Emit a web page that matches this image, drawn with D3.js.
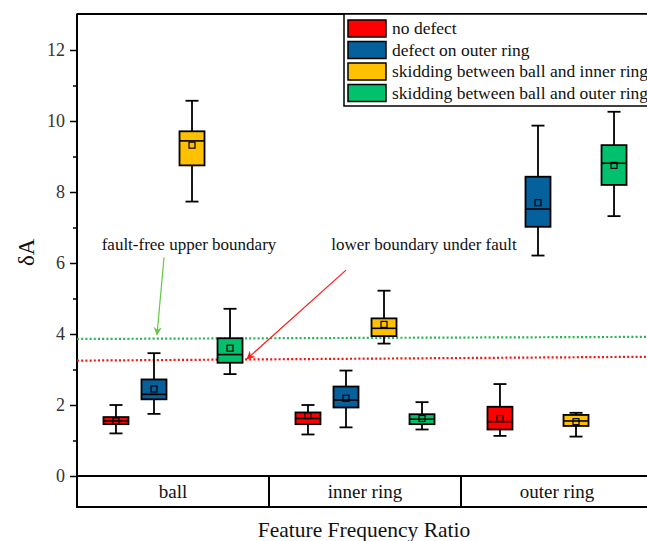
<!DOCTYPE html>
<html>
<head>
<meta charset="utf-8">
<script src="https://cdn.jsdelivr.net/npm/d3@7"></script>
<style>
  body { margin: 0; background: #fff; }
  text { font-family: "Liberation Serif", "Times New Roman", serif; }
</style>
</head>
<body>
<div id="chart"></div>
<script>
// categories along the x axis and the four series
const categories = ["ball", "inner ring", "outer ring"];
const series = ["no defect", "defect on outer ring", "skidding between ball and inner ring", "skidding between ball and outer ring"];
const colors = ["#FF0000", "#06609C", "#FFC000", "#00C26C"];

// box stats per category: [whisker low, q1, median, q3, whisker high, mean]
const noDefect      = [[1.20, 1.46, 1.55, 1.66, 2.00, 1.55], [1.17, 1.46, 1.62, 1.79, 2.00, 1.70], [1.13, 1.31, 1.53, 1.95, 2.59, 1.62]];
const outerDefect   = [[1.75, 2.16, 2.30, 2.72, 3.46, 2.45], [1.37, 1.93, 2.14, 2.52, 2.97, 2.19], [6.21, 7.02, 7.52, 8.43, 9.87, 7.70]];
const skidInner     = [[7.73, 8.75, 9.44, 9.71, 10.57, 9.32], [3.73, 3.94, 4.16, 4.44, 5.22, 4.27], [1.11, 1.41, 1.55, 1.72, 1.78, 1.53]];
const skidOuter     = [[2.87, 3.19, 3.42, 3.88, 4.71, 3.60], [1.31, 1.46, 1.60, 1.74, 2.08, 1.62], [7.32, 8.20, 8.81, 9.32, 10.26, 8.75]];
const seriesValues = [noDefect, outerDefect, skidInner, skidOuter];

const yTicks = [0, 2, 4, 6, 8, 10, 12];

// boundary lines: value at the left and right end of the plot
const upperBoundary = [3.86, 3.92];
const lowerBoundary = [3.25, 3.36];

const width = 647, height = 541;
const margin = { top: 14, left: 77, right: -6, bottom: 34 };
const tableH = 31;

const svg = d3.select("#chart").append("svg")
  .attr("width", width)
  .attr("height", height);

const x0 = d3.scaleBand()
  .domain(categories)
  .range([margin.left, width - margin.right]);

const x1 = d3.scalePoint()
  .domain(series)
  .range([x0.bandwidth() * 0.203, x0.bandwidth() * 0.797]);

const y = d3.scaleLinear()
  .domain([0, 13])
  .range([height - margin.bottom - tableH, margin.top + 0.5]);

const xLine = d3.scaleLinear().domain([0, 1]).range(x0.range());

const boxW = 25, capW = 13;
const yBottom = y(0);
const tableBottom = yBottom + tableH;

// y axis with major and minor ticks
const yAxis = d3.axisLeft(y).tickValues(yTicks).tickSize(7).tickPadding(5).tickFormat(d3.format("d"));
const gy = svg.append("g").attr("transform", `translate(${margin.left},0)`).call(yAxis);
gy.select(".domain").remove();
gy.selectAll(".tick line").attr("stroke", "#000").attr("stroke-width", 1.5);
gy.selectAll(".tick text").attr("fill", "#333").style("font-size", "18px").style("font-family", "Liberation Serif");

const gyMinor = svg.append("g").attr("transform", `translate(${margin.left},0)`)
  .call(d3.axisLeft(y).tickValues([1, 3, 5, 7, 9, 11]).tickSize(4).tickFormat(""));
gyMinor.select(".domain").remove();
gyMinor.selectAll(".tick line").attr("stroke", "#000").attr("stroke-width", 1.5);

// frame lines
const frame = svg.append("g").attr("stroke", "#000").attr("stroke-width", 2).attr("fill", "none");
frame.append("line").attr("x1", margin.left).attr("x2", margin.left).attr("y1", margin.top - 0.5).attr("y2", tableBottom + 1);
frame.append("line").attr("x1", margin.left).attr("x2", width).attr("y1", margin.top).attr("y2", margin.top);
frame.append("line").attr("x1", margin.left).attr("x2", width).attr("y1", yBottom).attr("y2", yBottom);
frame.append("line").attr("x1", margin.left).attr("x2", width).attr("y1", tableBottom).attr("y2", tableBottom);
categories.slice(1).forEach(c => {
  frame.append("line").attr("x1", x0(c)).attr("x2", x0(c)).attr("y1", yBottom).attr("y2", tableBottom);
});

// category labels in the table row
svg.append("g").selectAll("text")
  .data(categories)
  .join("text")
  .attr("x", d => x0(d) + x0.bandwidth() / 2)
  .attr("y", yBottom + 22)
  .attr("text-anchor", "middle")
  .style("font-size", "19px")
  .attr("fill", "#111")
  .text(d => d);

// boundary lines
svg.append("line")
  .attr("x1", xLine(0)).attr("x2", xLine(1))
  .attr("y1", y(upperBoundary[0])).attr("y2", y(upperBoundary[1]))
  .attr("stroke", "#22B84C").attr("stroke-width", 2.2).attr("stroke-dasharray", "2,2.2");
svg.append("line")
  .attr("x1", xLine(0)).attr("x2", xLine(1))
  .attr("y1", y(lowerBoundary[0])).attr("y2", y(lowerBoundary[1]))
  .attr("stroke", "#FF1010").attr("stroke-width", 2.2).attr("stroke-dasharray", "2,2.2");

// boxes
const boxes = [];
seriesValues.forEach((vals, si) => {
  vals.forEach((s, ci) => {
    boxes.push({ cat: categories[ci], ser: series[si], color: colors[si], lo: s[0], q1: s[1], med: s[2], q3: s[3], hi: s[4], mean: s[5] });
  });
});

const bg = svg.append("g").selectAll("g")
  .data(boxes)
  .join("g")
  .attr("transform", d => `translate(${x0(d.cat) + x1(d.ser)},0)`);

bg.append("line").attr("y1", d => y(d.hi)).attr("y2", d => y(d.q3)).attr("stroke", "#000").attr("stroke-width", 1.8);
bg.append("line").attr("y1", d => y(d.q1)).attr("y2", d => y(d.lo)).attr("stroke", "#000").attr("stroke-width", 1.8);
bg.append("line").attr("x1", -capW / 2).attr("x2", capW / 2).attr("y1", d => y(d.hi)).attr("y2", d => y(d.hi)).attr("stroke", "#000").attr("stroke-width", 1.8);
bg.append("line").attr("x1", -capW / 2).attr("x2", capW / 2).attr("y1", d => y(d.lo)).attr("y2", d => y(d.lo)).attr("stroke", "#000").attr("stroke-width", 1.8);
bg.append("rect")
  .attr("x", -boxW / 2).attr("width", boxW)
  .attr("y", d => y(d.q3)).attr("height", d => y(d.q1) - y(d.q3))
  .attr("fill", d => d.color).attr("stroke", "#000").attr("stroke-width", 1.8);
bg.append("line").attr("x1", -boxW / 2).attr("x2", boxW / 2).attr("y1", d => y(d.med)).attr("y2", d => y(d.med)).attr("stroke", "#000").attr("stroke-width", 1.6);
bg.append("rect")
  .attr("x", -3).attr("width", 6)
  .attr("y", d => y(d.mean) - 3).attr("height", 6)
  .attr("fill", "none").attr("stroke", "#000").attr("stroke-width", 1.2);

// annotations with arrows
const defs = svg.append("defs");
[["arrGreen", "#66C843"], ["arrRed", "#FF1A1A"]].forEach(([id, c]) => {
  defs.append("marker").attr("id", id)
    .attr("viewBox", "0 0 10 10").attr("refX", 9).attr("refY", 5)
    .attr("markerWidth", 7).attr("markerHeight", 7).attr("orient", "auto")
    .append("path").attr("d", "M0,0 L10,5 L0,10 L3,5 Z").attr("fill", c);
});

svg.append("text").attr("x", 189).attr("y", y(6.36)).attr("text-anchor", "middle")
  .style("font-size", "17px").attr("fill", "#111").text("fault-free upper boundary");
svg.append("line").attr("x1", 164).attr("y1", y(6.15)).attr("x2", 157).attr("y2", y(3.98))
  .attr("stroke", "#66C843").attr("stroke-width", 1.2).attr("marker-end", "url(#arrGreen)");

svg.append("text").attr("x", 424).attr("y", y(6.36)).attr("text-anchor", "middle")
  .style("font-size", "17px").attr("fill", "#111").text("lower boundary under fault");
svg.append("line").attr("x1", 346).attr("y1", y(5.8)).attr("x2", 247).attr("y2", y(3.3))
  .attr("stroke", "#FF1A1A").attr("stroke-width", 1.2).attr("marker-end", "url(#arrRed)");

// legend
const lg = svg.append("g");
lg.append("rect").attr("x", 344).attr("y", margin.top).attr("width", 320).attr("height", 92)
  .attr("fill", "#fff").attr("stroke", "#000").attr("stroke-width", 1.5);
const li = lg.selectAll("g.item").data(series).join("g").attr("class", "item")
  .attr("transform", (d, i) => `translate(348,${20 + i * 21.5})`);
li.append("rect").attr("width", 38).attr("height", 17)
  .attr("fill", (d, i) => colors[i]).attr("stroke", "#000").attr("stroke-width", 1.5);
li.append("text").attr("x", 44).attr("y", 14).style("font-size", "17.5px").attr("fill", "#111").text(d => d);

// axis titles
svg.append("text")
  .attr("transform", `translate(34,${y(6.3)}) rotate(-90)`)
  .attr("text-anchor", "middle")
  .style("font-size", "23px").attr("fill", "#111")
  .text("δA");
svg.append("text")
  .attr("x", 364).attr("y", 537)
  .attr("text-anchor", "middle")
  .style("font-size", "21.5px").attr("fill", "#111")
  .text("Feature Frequency Ratio");
</script>
</body>
</html>
